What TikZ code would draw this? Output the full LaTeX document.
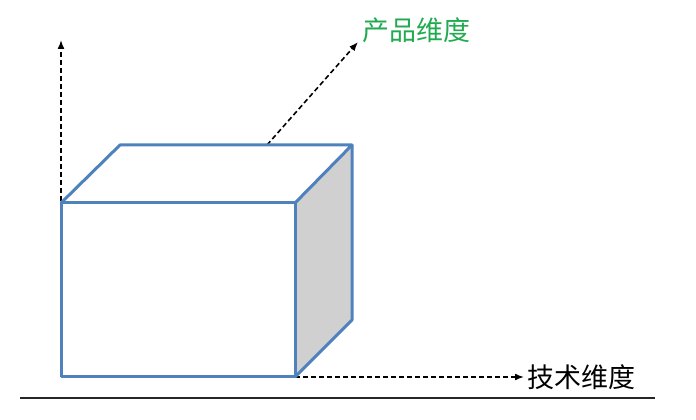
\documentclass[tikz,border=0pt]{standalone}
\usepackage{fontspec}
\newfontfamily\cjk{Noto Sans CJK SC}
\usetikzlibrary{positioning,arrows.meta}
\definecolor{edgeblue}{RGB}{79,129,189}
\definecolor{sidegray}{RGB}{208,208,208}
\definecolor{labgreen}{RGB}{34,170,80}

\begin{document}
\begin{tikzpicture}[x=1pt,y=1pt,>={Latex[length=9pt,width=7pt]},line width=0.5pt,
  edge/.style={draw=edgeblue,line width=3pt,line join=round},
  axis/.style={->,dash pattern=on 5pt off 3pt,line width=1.6pt},
  font={\cjk\fontsize{27}{32}\selectfont}]
\useasboundingbox (0,0) rectangle (696,420);

% corners
\coordinate (fbl) at (61,43);
\coordinate (fbr) at (295,43);
\coordinate (ftr) at (295,217);
\coordinate (ftl) at (61,217);
\coordinate (btl) at (120,275);
\coordinate (btr) at (352,275);
\coordinate (bbr) at (352,100);

% side face
\fill[sidegray] (fbr) -- (ftr) -- (btr) -- (bbr) -- cycle;

% axes
\coordinate (zend) at (61,380);
\coordinate (pstart) at (267,275);
\coordinate (pend) at (358,378);
\coordinate (tend) at (524,43);
\draw[axis] (fbl) -- (zend);
\draw[axis] (pstart) -- (pend);
\draw[axis] (fbr) -- (tend);

% cube
\draw[edge] (fbl) rectangle (ftr);
\draw[edge] (ftl) -- (btl) -- (btr) -- (ftr);
\draw[edge] (btr) -- (bbr) -- (fbr);

% labels
\node[right=2pt of tend,inner sep=1pt] (tech) {技术维度};
\node[above right=-2pt and 3pt of pend,inner sep=1pt,text=labgreen] (prod) {产品维度};

% base line
\coordinate (bl) at (20,22);
\coordinate (br) at (655,22);
\draw[line width=1.2pt,black!85] (bl) -- (br);
\end{tikzpicture}
\end{document}
